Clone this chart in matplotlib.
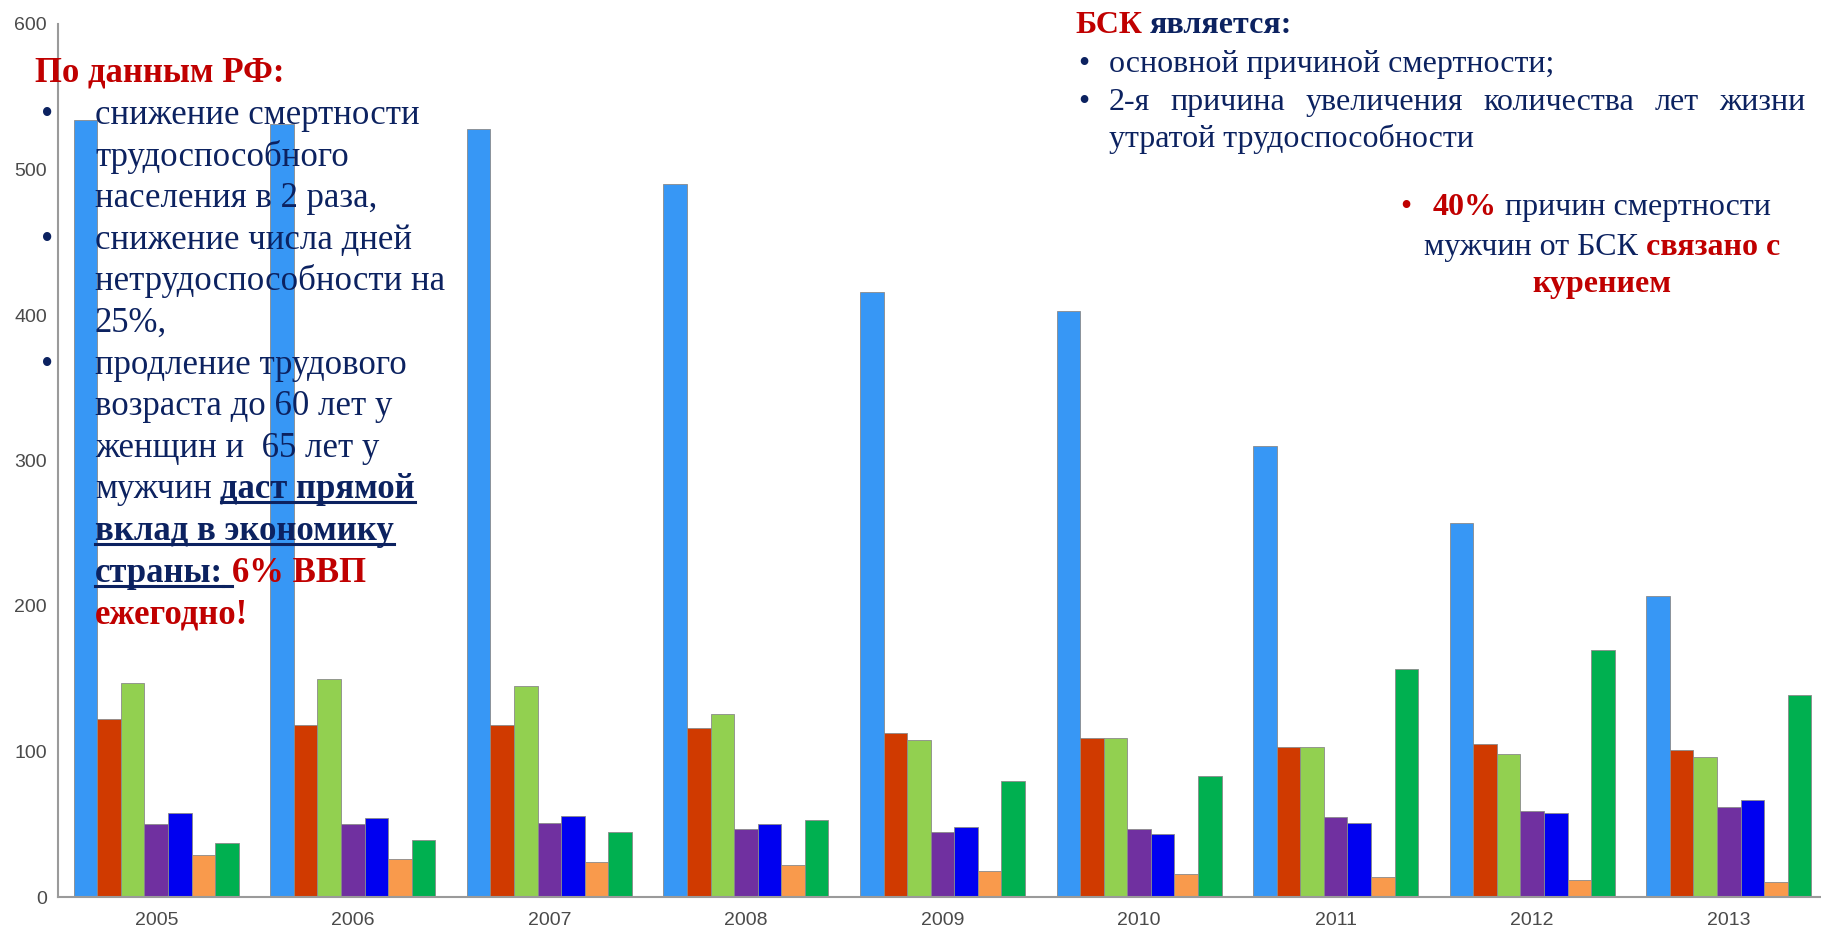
import matplotlib
matplotlib.use('Agg')
import matplotlib.pyplot as plt
import numpy as np
from matplotlib.font_manager import FontProperties
from matplotlib.transforms import IdentityTransform
from matplotlib.lines import Line2D

# данные по годам
years = ['2005', '2006', '2007', '2008', '2009', '2010', '2011', '2012', '2013']
s_lightblue = [534, 531, 528, 490, 416, 403, 310, 257, 207]
s_red = [122, 118, 118, 116, 113, 109, 103, 105, 101]
s_lightgreen = [147, 150, 145, 126, 108, 109, 103, 98, 96]
s_purple = [50, 50, 51, 47, 45, 47, 55, 59, 62]
s_blue = [58, 54, 56, 50, 48, 43, 51, 58, 67]
s_orange = [29, 26, 24, 22, 18, 16, 14, 12, 10]
s_green = [37, 39, 45, 53, 80, 83, 157, 170, 139]

series = [s_lightblue, s_red, s_lightgreen, s_purple, s_blue, s_orange, s_green]
colors = ['#3797F5', '#D03A00', '#92D050', '#7030A0', '#0000F0', '#F99A4C', '#00B050']

RED = '#C00000'
NAVY = '#0C2260'

W, H = 1821, 933
fig = plt.figure(figsize=(W / 100, H / 100), dpi=100)
ax = fig.add_axes([58 / W, 36 / H, 1769 / W, 873 / H])

x = np.arange(len(years))
bw = 0.12
for i, (vals, c) in enumerate(zip(series, colors)):
    ax.bar(x + (i - 3) * bw, vals, bw, color=c, edgecolor='#8a8a8a', linewidth=0.6)

ax.set_xlim(-0.5, len(years) - 0.5)
ax.set_ylim(0, 600)
ax.set_yticks(range(0, 601, 100))
ax.set_xticks(x)
ax.set_xticklabels(years)
ax.tick_params(length=0, labelsize=14, labelcolor='#4a4a4a')
ax.tick_params(axis='y', pad=8)
ax.tick_params(axis='x', pad=11)
for lab in ax.get_xticklabels() + ax.get_yticklabels():
    lab.set_family('Liberation Sans')
for s in ['top', 'right']:
    ax.spines[s].set_visible(False)
for s in ['left', 'bottom']:
    ax.spines[s].set_color('#9a9a9a')
    ax.spines[s].set_linewidth(1.5)

# ---- текст поверх графика ----
renderer = fig.canvas.get_renderer()
PX = IdentityTransform()


def fprop(size, bold):
    return FontProperties(family='Liberation Serif', size=size, weight='bold' if bold else 'normal')


def width(s, fp):
    return renderer.get_text_width_height_descent(s, fp, ismath=False)[0]


def space_w(fp):
    return width('a a', fp) - width('aa', fp)


def run_width(runs, size):
    tot = 0
    for s, c, b, u in runs:
        fp = fprop(size, b)
        tot += space_w(fp) * len(s) if s.strip() == '' else width(s, fp)
    return tot


def draw_runs(x0, ytop, runs, size):
    xx = x0
    yy = H - ytop
    for s, c, b, u in runs:
        fp = fprop(size, b)
        if s.strip() == '':
            w = space_w(fp) * len(s)
        else:
            fig.text(xx, yy, s, fontproperties=fp, color=c, transform=PX, va='baseline', ha='left')
            w = width(s, fp)
        if u:
            fig.add_artist(Line2D([xx, xx + w], [yy - 4, yy - 4], color=c, lw=2.2, transform=PX))
        xx += w


def bullet(xc, ytop, size, color):
    fig.text(xc, H - ytop, '•', fontproperties=fprop(size, False), color=color,
             transform=PX, va='baseline', ha='center')


# левый блок
LS = 25
draw_runs(35, 82, [('По данным РФ:', RED, True, False)], LS)
left_lines = [
    [('снижение смертности', NAVY, False, False)],
    [('трудоспособного', NAVY, False, False)],
    [('населения в 2 раза,', NAVY, False, False)],
    [('снижение числа дней', NAVY, False, False)],
    [('нетрудоспособности на', NAVY, False, False)],
    [('25%,', NAVY, False, False)],
    [('продление трудового', NAVY, False, False)],
    [('возраста до 60 лет у', NAVY, False, False)],
    [('женщин и  65 лет у', NAVY, False, False)],
    [('мужчин', NAVY, False, False), (' ', NAVY, False, False), ('даст прямой', NAVY, True, True)],
    [('вклад в экономику', NAVY, True, True)],
    [('страны:', NAVY, True, True), (' ', NAVY, True, True), ('6% ВВП', RED, True, False)],
    [('ежегодно!', RED, True, False)],
]
for k, runs in enumerate(left_lines):
    yb = 124 + k * 41.6
    draw_runs(95, yb, runs, LS)
    if k in (0, 3, 6):
        bullet(47, yb, LS, NAVY)

# правый верхний блок
RS = 23
draw_runs(1075, 33, [('БСК', RED, True, False), (' ', NAVY, True, False),
                     ('является:', NAVY, True, False)], RS)
bullet(1084, 72, RS, NAVY)
draw_runs(1109, 72, [('основной причиной смертности;', NAVY, False, False)], RS)
bullet(1084, 110, RS, NAVY)
words = '2-я причина увеличения количества лет жизни'.split()
fp = fprop(RS, False)
ww = [width(w, fp) for w in words]
gap = (1805 - 1109 - sum(ww)) / (len(words) - 1)
xx = 1109
for w, wd in zip(words, ww):
    fig.text(xx, H - 110, w, fontproperties=fp, color=NAVY, transform=PX, va='baseline')
    xx += wd + gap
draw_runs(1109, 147, [('утратой трудоспособности', NAVY, False, False)], RS)

# правый нижний блок (по центру)
XC = 1602
r1 = [('40%', RED, True, False), (' ', NAVY, False, False), ('причин смертности', NAVY, False, False)]
r2 = [('мужчин от БСК', NAVY, False, False), (' ', NAVY, False, False), ('связано с', RED, True, False)]
r3 = [('курением', RED, True, False)]
for yb, runs in [(215, r1), (255, r2), (292, r3)]:
    x0 = XC - run_width(runs, RS) / 2
    draw_runs(x0, yb, runs, RS)
    if runs is r1:
        bullet(x0 - 27, yb, RS, RED)

fig.savefig('out.png', dpi=100)
